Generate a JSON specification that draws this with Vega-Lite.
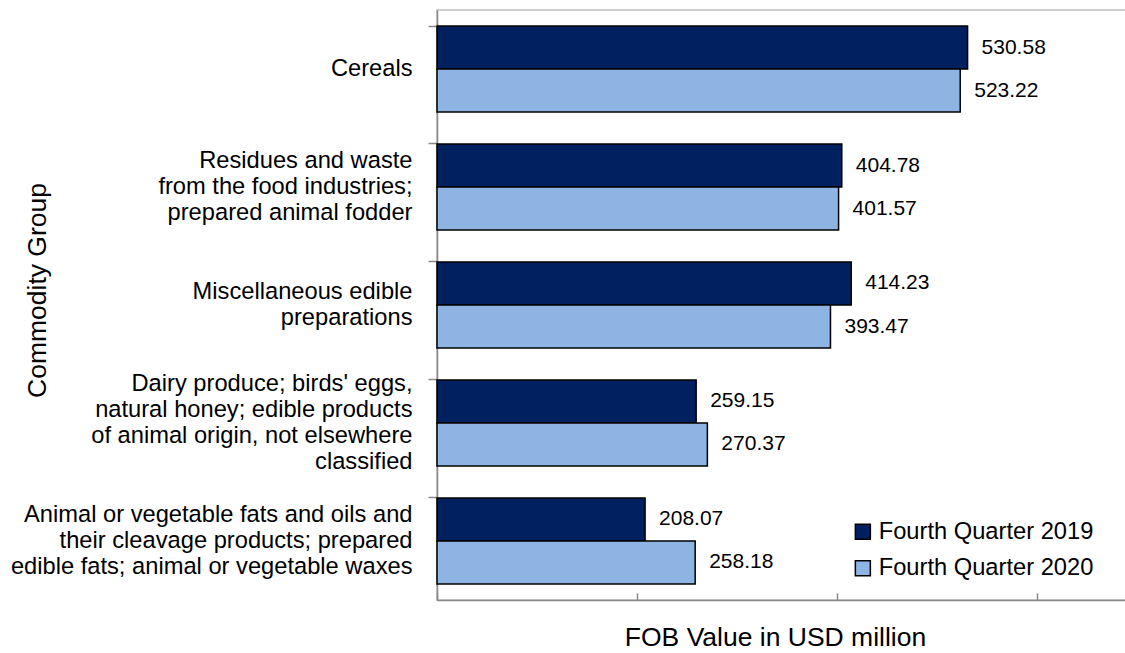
{
  "$schema": "https://vega.github.io/schema/vega-lite/v6.json",
  "width": 690,
  "height": 590,
  "autosize": {"type": "none"},
  "padding": {"left": 437, "top": 10, "right": 0, "bottom": 53},
  "background": "white",
  "config": {
    "view": {"stroke": "#c0c0c0", "strokeWidth": 1.5},
    "font": "Liberation Sans",
    "text": {"font": "Liberation Sans"}
  },
  "data": {
    "values": [
      {"group": "Cereals", "series": "Fourth Quarter 2019", "value": 530.58},
      {"group": "Cereals", "series": "Fourth Quarter 2020", "value": 523.22},
      {"group": "Residues and waste|from the food industries;|prepared animal fodder", "series": "Fourth Quarter 2019", "value": 404.78},
      {"group": "Residues and waste|from the food industries;|prepared animal fodder", "series": "Fourth Quarter 2020", "value": 401.57},
      {"group": "Miscellaneous edible|preparations", "series": "Fourth Quarter 2019", "value": 414.23},
      {"group": "Miscellaneous edible|preparations", "series": "Fourth Quarter 2020", "value": 393.47},
      {"group": "Dairy produce; birds' eggs,|natural honey; edible products|of animal origin, not elsewhere|classified", "series": "Fourth Quarter 2019", "value": 259.15},
      {"group": "Dairy produce; birds' eggs,|natural honey; edible products|of animal origin, not elsewhere|classified", "series": "Fourth Quarter 2020", "value": 270.37},
      {"group": "Animal or vegetable fats and oils and|their cleavage products; prepared|edible fats; animal or vegetable waxes", "series": "Fourth Quarter 2019", "value": 208.07},
      {"group": "Animal or vegetable fats and oils and|their cleavage products; prepared|edible fats; animal or vegetable waxes", "series": "Fourth Quarter 2020", "value": 258.18}
    ]
  },
  "encoding": {
    "y": {
      "field": "group",
      "type": "nominal",
      "sort": null,
      "scale": {"paddingInner": 0.271, "paddingOuter": 0.1356},
      "axis": {
        "title": "Commodity Group",
        "titleFont": "Liberation Sans",
        "titleFontSize": 26.5,
        "titleFontWeight": "normal",
        "titleColor": "black",
        "titleX": -400,
        "titleY": 280,
        "titleAngle": -90,
        "titleAlign": "center",
        "titleBaseline": "middle",
        "labelExpr": "split(datum.label, '|')",
        "labelFont": "Liberation Sans",
        "labelFontSize": 23.7,
        "labelColor": "black",
        "labelLineHeight": 25.7,
        "labelPadding": 16,
        "labelLimit": 600,
        "labelOffset": {
          "condition": [
            {"test": "length(split(datum.value, '|')) == 4", "value": -38.5},
            {"test": "length(split(datum.value, '|')) == 3", "value": -25.7},
            {"test": "length(split(datum.value, '|')) == 2", "value": -12.8}
          ],
          "value": 0
        },
        "bandPosition": 0,
        "tickSize": 9,
        "tickColor": "#888888",
        "tickWidth": 1.5,
        "domainColor": "#888888",
        "domainWidth": 1.5,
        "grid": false
      }
    },
    "yOffset": {"field": "series", "type": "nominal", "sort": ["Fourth Quarter 2019", "Fourth Quarter 2020"]},
    "x": {
      "field": "value",
      "type": "quantitative",
      "scale": {"domain": [0, 690], "nice": false},
      "axis": {
        "title": "FOB Value in USD million",
        "titleFont": "Liberation Sans",
        "titleFontSize": 26.5,
        "titleFontWeight": "normal",
        "titleColor": "black",
        "titleX": 338,
        "titleY": 45,
        "titleAlign": "center",
        "titleBaseline": "alphabetic",
        "values": [0, 200, 400, 600],
        "labels": false,
        "tickSize": -7,
        "tickColor": "#888888",
        "tickWidth": 1.5,
        "domainColor": "#888888",
        "domainWidth": 1.5,
        "grid": false
      }
    }
  },
  "layer": [
    {
      "mark": {"type": "bar", "stroke": "black", "strokeWidth": 1.5},
      "encoding": {
        "color": {
          "field": "series",
          "type": "nominal",
          "scale": {"domain": ["Fourth Quarter 2019", "Fourth Quarter 2020"], "range": ["#002060", "#8EB4E3"]},
          "legend": {
            "title": null,
            "orient": "none",
            "legendX": 414,
            "legendY": 510,
            "symbolType": "square",
            "symbolSize": 225,
            "symbolStrokeColor": "black",
            "symbolStrokeWidth": 1.5,
            "labelFont": "Liberation Sans",
            "labelFontSize": 23.7,
            "labelColor": "black",
            "labelOffset": 4,
            "rowPadding": 11.3,
            "labelLimit": 400
          }
        }
      }
    },
    {
      "mark": {"type": "text", "align": "left", "baseline": "middle", "dx": 14, "fontSize": 21, "color": "black", "font": "Liberation Sans"},
      "encoding": {
        "text": {"field": "value", "type": "quantitative", "format": ".2f"}
      }
    }
  ]
}
